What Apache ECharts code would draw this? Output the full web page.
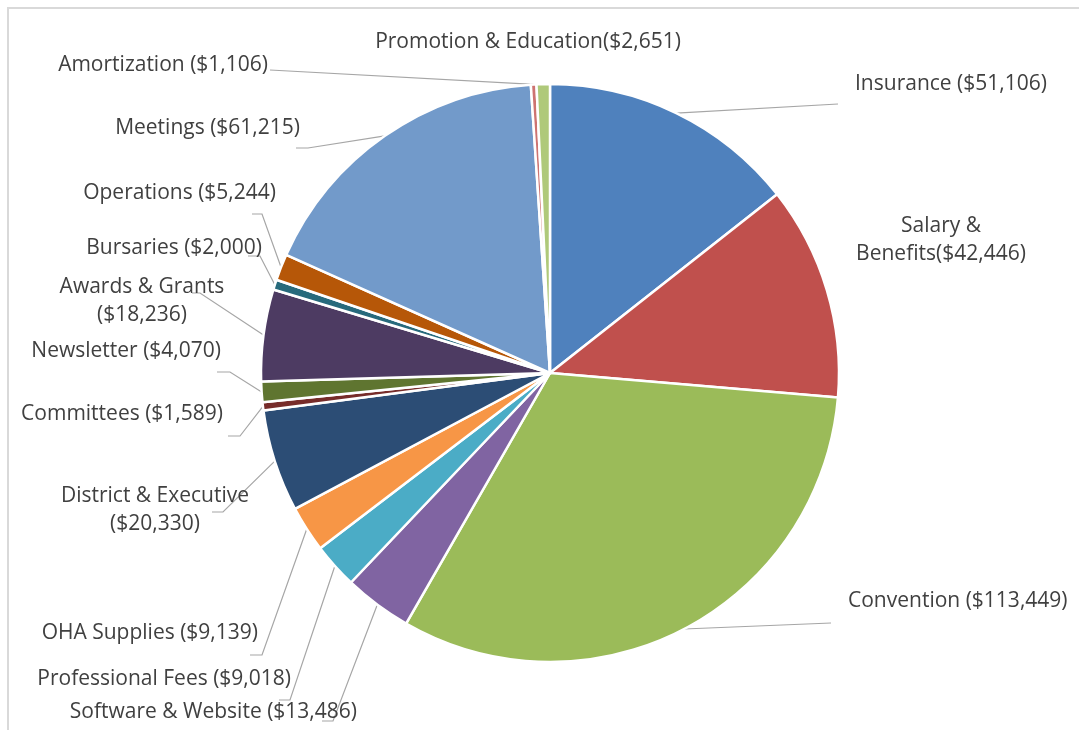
<!DOCTYPE html>
<html>
<head>
<meta charset="utf-8">
<script src="https://cdn.jsdelivr.net/npm/echarts@6/dist/echarts.min.js"></script>
<style>
  html, body { margin: 0; padding: 0; background: #fff; }
  #chart { width: 1079px; height: 730px; }
</style>
</head>
<body>
<div id="chart"></div>
<script>
// budget lines, clockwise from 12 o'clock
const categories = ['Insurance', 'Salary & Benefits', 'Convention', 'Software & Website', 'Professional Fees',
  'OHA Supplies', 'District & Executive', 'Committees', 'Newsletter', 'Awards & Grants',
  'Bursaries', 'Operations', 'Meetings', 'Amortization', 'Promotion & Education'];
const amounts = [51106, 42446, 113449, 13486, 9018, 9139, 20330, 1589, 4070, 18236, 2000, 5244, 61215, 1106, 2651];
const colors = ['#4f81bd', '#c0504d', '#9bbb59', '#8064a2', '#4bacc6', '#f79646', '#2c4d75', '#772c2a',
  '#5f7530', '#4d3b62', '#276a7c', '#b65708', '#729aca', '#cd7371', '#afc97a'];

// how the name runs into the amount in each label
const labelHeads = { 'Salary & Benefits': 'Salary &\nBenefits', 'Awards & Grants': 'Awards & Grants\n',
  'District & Executive': 'District & Executive\n', 'Promotion & Education': 'Promotion & Education' };

// label anchor [x, y, align] and leader tail [x, y, elbow length] (null = no leader)
const labelSpots = [
  [855, 84, 'left'], [941, 240, 'center'], [848, 601, 'left'], [357, 712, 'right'], [291, 679, 'right'],
  [258, 633, 'right'], [155, 510, 'center'], [223, 414, 'right'], [221, 351, 'right'], [142, 301, 'center'],
  [262, 248, 'right'], [276, 193, 'right'], [300, 128, 'right'], [268, 65, 'right'], [528, 42, 'center']
];
const leaderTails = [
  [838, 104, 0], null, [831, 623, 0], [322, 721, 11], [279, 700, 11],
  [250, 655, 12], [212, 512, 11], [228, 436, 12], [217, 372, 13], [192, 293, 8],
  [248, 256, 12], [252, 214, 10], [296, 148, 12], [270, 70, 0], null
];

const money = (v) => '($' + v.toLocaleString('en-US') + ')';

const chart = echarts.init(document.getElementById('chart'));
chart.setOption({
  animation: false,
  graphic: [{
    type: 'polyline',
    shape: { points: [[8, 730], [8, 8], [1079, 8]] },
    style: { stroke: '#d9d9d9', lineWidth: 2, fill: null }
  }],
  series: [{
    type: 'pie',
    center: [550, 373],
    radius: 289,
    startAngle: 90,
    clockwise: true,
    itemStyle: { borderColor: '#fff', borderWidth: 2.5 },
    label: {
      show: true,
      position: 'outside',
      fontFamily: 'Open Sans',
      fontSize: 21,
      lineHeight: 28,
      color: '#404040',
      formatter: (p) => (labelHeads[p.name] !== undefined ? labelHeads[p.name] : p.name + ' ') + money(p.value)
    },
    labelLine: { show: true, length: 10, length2: 12, lineStyle: { color: '#a6a6a6', width: 1.2 } },
    labelLayout: (p) => {
      const s = labelSpots[p.dataIndex];
      const t = leaderTails[p.dataIndex];
      const out = { x: s[0], y: s[1], align: s[2], verticalAlign: 'middle', hideOverlap: false };
      if (t && p.labelLinePoints) {
        // leader starts where the library puts it: slice edge at mid angle
        const start = p.labelLinePoints[0];
        const dir = start[0] > t[0] ? 1 : -1;
        out.labelLinePoints = [start, [t[0] + dir * t[2], t[1]], [t[0], t[1]]];
      }
      return out;
    },
    data: categories.map((name, i) => ({
      name: name,
      value: amounts[i],
      itemStyle: { color: colors[i] },
      labelLine: { show: leaderTails[i] !== null }
    }))
  }]
});
</script>
</body>
</html>
